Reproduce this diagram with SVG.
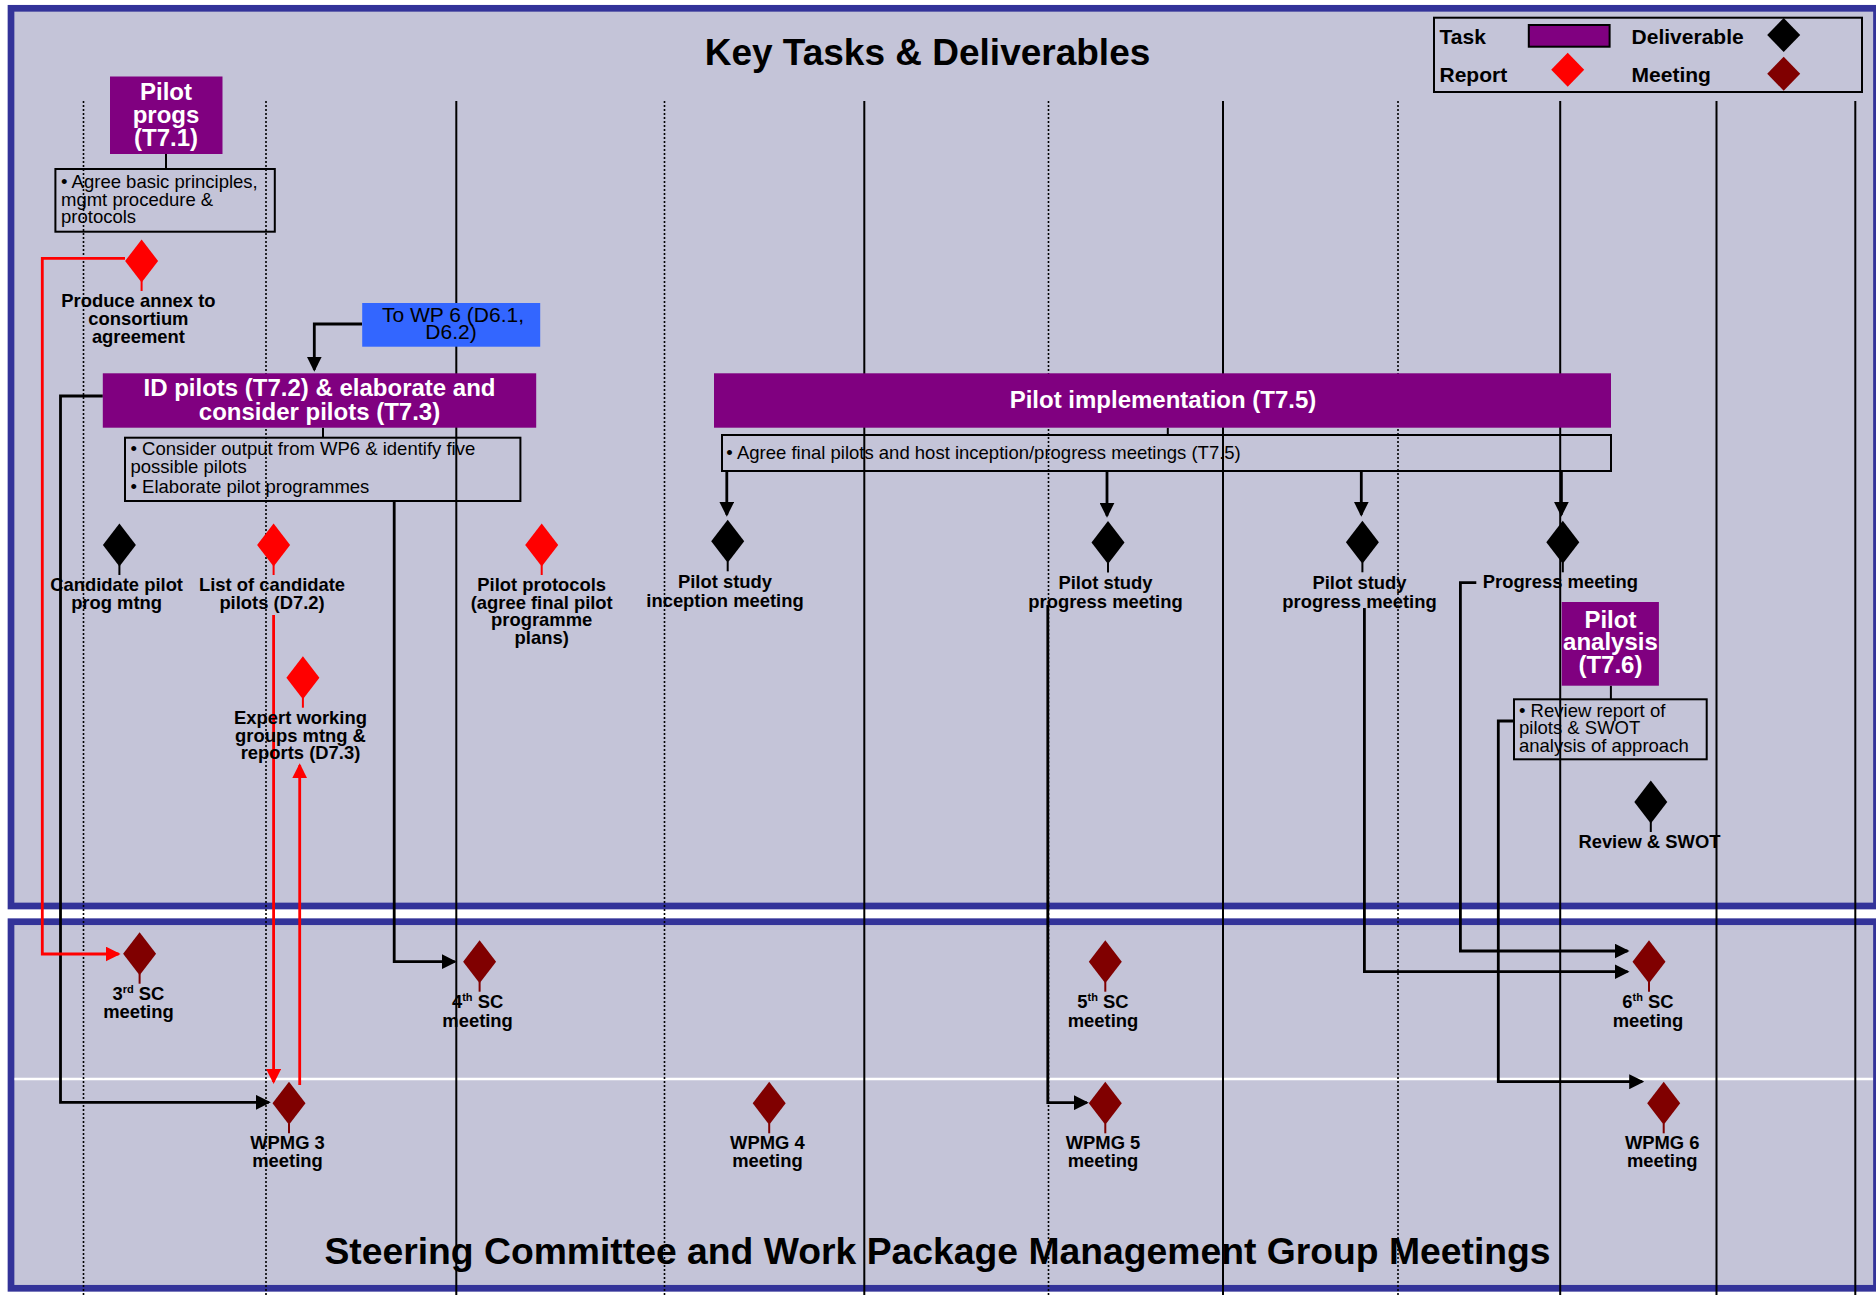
<svg xmlns="http://www.w3.org/2000/svg" xmlns:xlink="http://www.w3.org/1999/xlink" width="1876" height="1295" viewBox="0 0 1876 1295">
<style>
text{font-family:"Liberation Sans",Arial,Helvetica,sans-serif}
.title{font-size:37px;font-weight:bold;fill:#000}
.title2{font-size:37.3px;font-weight:bold;fill:#000}
.task{font-size:24px;font-weight:bold;fill:#fff;text-anchor:middle}
.lbl{font-size:18.4px;font-weight:bold;fill:#000;text-anchor:middle}
.bt{font-size:18.5px;fill:#000}
.leg{font-size:21px;font-weight:bold;fill:#000}
.wp{font-size:21px;fill:#000;text-anchor:middle}
.panel{fill:#C4C4D8;stroke:#333399;stroke-width:6.7}
.gs{stroke:#000;stroke-width:2}
.gd{stroke:#000;stroke-width:1.6;stroke-dasharray:2 2}
.tb{fill:#800080}
.box{fill:none;stroke:#000;stroke-width:2}
.stem{stroke:#000;stroke-width:2}
.cb{fill:none;stroke:#000;stroke-width:2.8;marker-end:url(#ab)}
.cr{fill:none;stroke:#FF0000;stroke-width:2.8;marker-end:url(#ar)}
.dd{fill:#000;stroke:#000}
.dr{fill:#FF0000;stroke:#FF0000}
.dmt{fill:#800000;stroke:#800000}
</style>
<defs>
<marker id="ab" viewBox="0 0 15 15" markerWidth="15" markerHeight="15" refX="13" refY="7.5" orient="auto" markerUnits="userSpaceOnUse"><path d="M0,0 L15,7.5 L0,15 Z" fill="#000"/></marker>
<marker id="ar" viewBox="0 0 15 15" markerWidth="15" markerHeight="15" refX="13" refY="7.5" orient="auto" markerUnits="userSpaceOnUse"><path d="M0,0 L15,7.5 L0,15 Z" fill="#FF0000"/></marker>
<g id="dm"><path d="M0,-21.5 L16.5,0 L0,21.5 L-16.5,0 Z" stroke="none"/><line x1="0" y1="20" x2="0" y2="30" stroke-width="2"/></g>
<path id="dl" d="M0,-17 L16.5,0 L0,17 L-16.5,0 Z" stroke="none"/>
</defs>

<rect x="0" y="0" width="1876" height="1295" fill="#fff"/>

<g id="panels">
<rect class="panel" x="11" y="8.3" width="1865.5" height="897.7"/>
<rect class="panel" x="11" y="921.7" width="1865.5" height="366.6"/>
<line x1="14.5" y1="1079" x2="1873" y2="1079" stroke="#fff" stroke-width="2.7"/>
</g>

<g id="grid">
<line class="gd" x1="83.5" y1="101" x2="83.5" y2="1295"/>
<line class="gd" x1="266" y1="101" x2="266" y2="1295"/>
<line class="gd" x1="664.5" y1="101" x2="664.5" y2="1295"/>
<line class="gd" x1="1048.5" y1="101" x2="1048.5" y2="1295"/>
<line class="gd" x1="1398" y1="101" x2="1398" y2="1295"/>
<line class="gs" x1="456.3" y1="101" x2="456.3" y2="1295"/>
<line class="gs" x1="864.3" y1="101" x2="864.3" y2="1295"/>
<line class="gs" x1="1223" y1="101" x2="1223" y2="1295"/>
<line class="gs" x1="1560.2" y1="101" x2="1560.2" y2="1295"/>
<line class="gs" x1="1716.5" y1="101" x2="1716.5" y2="1295"/>
<line class="gs" x1="1855.3" y1="101" x2="1855.3" y2="1295"/>
</g>

<g id="titles">
<text class="title" x="927.5" y="65" text-anchor="middle">Key Tasks &amp; Deliverables</text>
<text class="title2" x="937.5" y="1264.3" text-anchor="middle">Steering Committee and Work Package Management Group Meetings</text>
</g>

<g id="legend">
<rect class="box" x="1434" y="17.7" width="428" height="74.3"/>
<text class="leg" x="1439.5" y="44.3">Task</text>
<rect x="1528.8" y="25" width="80.8" height="21.7" fill="#800080" stroke="#000" stroke-width="2"/>
<text class="leg" x="1631.6" y="44.3">Deliverable</text>
<use xlink:href="#dl" href="#dl" class="dd" x="1783.7" y="35"/>
<text class="leg" x="1439.5" y="82.3">Report</text>
<use xlink:href="#dl" href="#dl" class="dr" x="1567.7" y="69.7"/>
<text class="leg" x="1631.6" y="82.3">Meeting</text>
<use xlink:href="#dl" href="#dl" class="dmt" x="1783.7" y="73.7"/>
</g>

<g id="connectors">
<line class="stem" x1="166" y1="154" x2="166" y2="169"/>
<line class="stem" x1="323" y1="427.7" x2="323" y2="437.7"/>
<line class="stem" x1="1167.8" y1="427.7" x2="1167.8" y2="435"/>
<line class="stem" x1="1610.9" y1="685.7" x2="1610.9" y2="699.3"/>
<path class="cb" d="M362,324 H314.3 V369.7"/>
<path class="cb" d="M102.8,396 H60.5 V1102.3 H268.8"/>
<path class="cb" d="M394.2,501 V961.7 H454.7"/>
<path class="cr" d="M125,258.3 H42.3 V954 H118.6"/>
<path class="cr" d="M273.6,615 V1082"/>
<path class="cr" d="M299.7,1085 V765.3"/>
<path class="cb" d="M726.8,471 V514.7"/>
<path class="cb" d="M1107,472 V515.7"/>
<path class="cb" d="M1361.3,471 V514.7"/>
<path class="cb" d="M1561.4,471 V514.7"/>
<path class="cb" d="M1047.8,605 V1102.7 H1086.8"/>
<path class="cb" d="M1364.4,608 V971.7 H1627.5"/>
<path class="cb" d="M1476.3,582.7 H1460.4 V951 H1627.5"/>
<path class="cb" d="M1514,721 H1498.3 V1081.7 H1642.2"/>
</g>

<g id="t71">
<rect class="tb" x="110" y="76.5" width="112.5" height="77.5"/>
<text class="task" x="166" y="100">Pilot</text>
<text class="task" x="166" y="123">progs</text>
<text class="task" x="166" y="145.5">(T7.1)</text>
</g>
<g id="t71-desc">
<rect class="box" x="55.4" y="169" width="219.4" height="62.7"/>
<text class="bt" x="61" y="188">• Agree basic principles,</text>
<text class="bt" x="61" y="205.7">mgmt procedure &amp;</text>
<text class="bt" x="61" y="223">protocols</text>
</g>
<g id="wp6">
<rect x="362.2" y="303" width="178" height="43.7" fill="#3366FF"/>
<text class="wp" x="453" y="321.7">To WP 6 (D6.1,</text>
<text class="wp" x="451" y="339">D6.2)</text>
</g>
<g id="t72">
<rect class="tb" x="102.8" y="373.3" width="433.4" height="54.4"/>
<text class="task" x="319.5" y="396">ID pilots (T7.2) &amp; elaborate and</text>
<text class="task" x="319.5" y="420">consider pilots (T7.3)</text>
</g>
<g id="t72-desc">
<rect class="box" x="125" y="437.7" width="395.4" height="63.3"/>
<text class="bt" x="130.5" y="455">• Consider output from WP6 &amp; identify five</text>
<text class="bt" x="130.5" y="472.7">possible pilots</text>
<text class="bt" x="130.5" y="493.3">• Elaborate pilot programmes</text>
</g>
<g id="t75">
<rect class="tb" x="714" y="373.3" width="897" height="54.4"/>
<text class="task" x="1163" y="407.7">Pilot implementation (T7.5)</text>
</g>
<g id="t75-desc">
<rect class="box" x="722" y="435" width="889" height="36"/>
<text class="bt" x="726.3" y="459.3">• Agree final pilots and host inception/progress meetings (T7.5)</text>
</g>
<g id="t76">
<rect class="tb" x="1561.7" y="602" width="97.2" height="83.7"/>
<text class="task" x="1610.4" y="627.7">Pilot</text>
<text class="task" x="1610.4" y="650">analysis</text>
<text class="task" x="1610.4" y="673.3">(T7.6)</text>
</g>
<g id="t76-desc">
<rect class="box" x="1514" y="699.3" width="192.7" height="60"/>
<text class="bt" x="1519" y="716.7">• Review report of</text>
<text class="bt" x="1519" y="734.3">pilots &amp; SWOT</text>
<text class="bt" x="1519" y="752.3">analysis of approach</text>
</g>

<g id="annex">
<use xlink:href="#dm" href="#dm" class="dr" x="141.6" y="261"/>
<text class="lbl" x="138.4" y="306.5">Produce annex to</text>
<text class="lbl" x="138.4" y="324.5">consortium</text>
<text class="lbl" x="138.4" y="342.5">agreement</text>
</g>
<g id="candidate">
<use xlink:href="#dm" href="#dm" class="dd" x="119.4" y="545"/>
<text class="lbl" x="116.6" y="591">Candidate pilot</text>
<text class="lbl" x="116.6" y="609.3">prog mtng</text>
</g>
<g id="d72">
<use xlink:href="#dm" href="#dm" class="dr" x="273.6" y="545"/>
<text class="lbl" x="272" y="591">List of candidate</text>
<text class="lbl" x="272" y="609.3">pilots (D7.2)</text>
</g>
<g id="d73">
<use xlink:href="#dm" href="#dm" class="dr" x="302.9" y="677.7"/>
<text class="lbl" x="300.5" y="724">Expert working</text>
<text class="lbl" x="300.5" y="741.7">groups mtng &amp;</text>
<text class="lbl" x="300.5" y="759.3">reports (D7.3)</text>
</g>
<g id="protocols">
<use xlink:href="#dm" href="#dm" class="dr" x="541.7" y="545"/>
<text class="lbl" x="541.7" y="591">Pilot protocols</text>
<text class="lbl" x="541.7" y="608.5">(agree final pilot</text>
<text class="lbl" x="541.7" y="626">programme</text>
<text class="lbl" x="541.7" y="644">plans)</text>
</g>
<g id="inception">
<use xlink:href="#dm" href="#dm" class="dd" x="727.7" y="541.3"/>
<text class="lbl" x="725" y="588.3">Pilot study</text>
<text class="lbl" x="725" y="606.7">inception meeting</text>
</g>
<g id="progress1">
<use xlink:href="#dm" href="#dm" class="dd" x="1108" y="542.5"/>
<text class="lbl" x="1105.5" y="589.3">Pilot study</text>
<text class="lbl" x="1105.5" y="607.7">progress meeting</text>
</g>
<g id="progress2">
<use xlink:href="#dm" href="#dm" class="dd" x="1362.4" y="542.3"/>
<text class="lbl" x="1359.5" y="589.3">Pilot study</text>
<text class="lbl" x="1359.5" y="607.7">progress meeting</text>
</g>
<g id="progress3">
<use xlink:href="#dm" href="#dm" class="dd" x="1562.8" y="542.3"/>
<text class="lbl" x="1560.4" y="588.3">Progress meeting</text>
</g>
<g id="swot">
<use xlink:href="#dm" href="#dm" class="dd" x="1650.8" y="802"/>
<text class="lbl" x="1649.4" y="848.3">Review &amp; SWOT</text>
</g>

<g id="sc3">
<use xlink:href="#dm" href="#dm" class="dmt" x="139.6" y="953.7"/>
<text class="lbl" x="138.4" y="1000">3<tspan font-size="11" dy="-7">rd</tspan><tspan dy="7"> SC</tspan></text>
<text class="lbl" x="138.4" y="1018.3">meeting</text>
</g>
<g id="sc4">
<use xlink:href="#dm" href="#dm" class="dmt" x="479.6" y="961.7"/>
<text class="lbl" x="477.6" y="1008.3">4<tspan font-size="11" dy="-7">th</tspan><tspan dy="7"> SC</tspan></text>
<text class="lbl" x="477.6" y="1026.7">meeting</text>
</g>
<g id="sc5">
<use xlink:href="#dm" href="#dm" class="dmt" x="1105.3" y="961.7"/>
<text class="lbl" x="1103" y="1008.3">5<tspan font-size="11" dy="-7">th</tspan><tspan dy="7"> SC</tspan></text>
<text class="lbl" x="1103" y="1026.7">meeting</text>
</g>
<g id="sc6">
<use xlink:href="#dm" href="#dm" class="dmt" x="1649" y="961.7"/>
<text class="lbl" x="1648" y="1008.3">6<tspan font-size="11" dy="-7">th</tspan><tspan dy="7"> SC</tspan></text>
<text class="lbl" x="1648" y="1026.7">meeting</text>
</g>
<g id="wpmg3">
<use xlink:href="#dm" href="#dm" class="dmt" x="289" y="1103.3"/>
<text class="lbl" x="287.5" y="1149.3">WPMG 3</text>
<text class="lbl" x="287.5" y="1167.3">meeting</text>
</g>
<g id="wpmg4">
<use xlink:href="#dm" href="#dm" class="dmt" x="769.2" y="1103.3"/>
<text class="lbl" x="767.4" y="1149.3">WPMG 4</text>
<text class="lbl" x="767.4" y="1167.3">meeting</text>
</g>
<g id="wpmg5">
<use xlink:href="#dm" href="#dm" class="dmt" x="1105.3" y="1103.3"/>
<text class="lbl" x="1103" y="1149.3">WPMG 5</text>
<text class="lbl" x="1103" y="1167.3">meeting</text>
</g>
<g id="wpmg6">
<use xlink:href="#dm" href="#dm" class="dmt" x="1663.7" y="1103.3"/>
<text class="lbl" x="1662.2" y="1149.3">WPMG 6</text>
<text class="lbl" x="1662.2" y="1167.3">meeting</text>
</g>
</svg>
